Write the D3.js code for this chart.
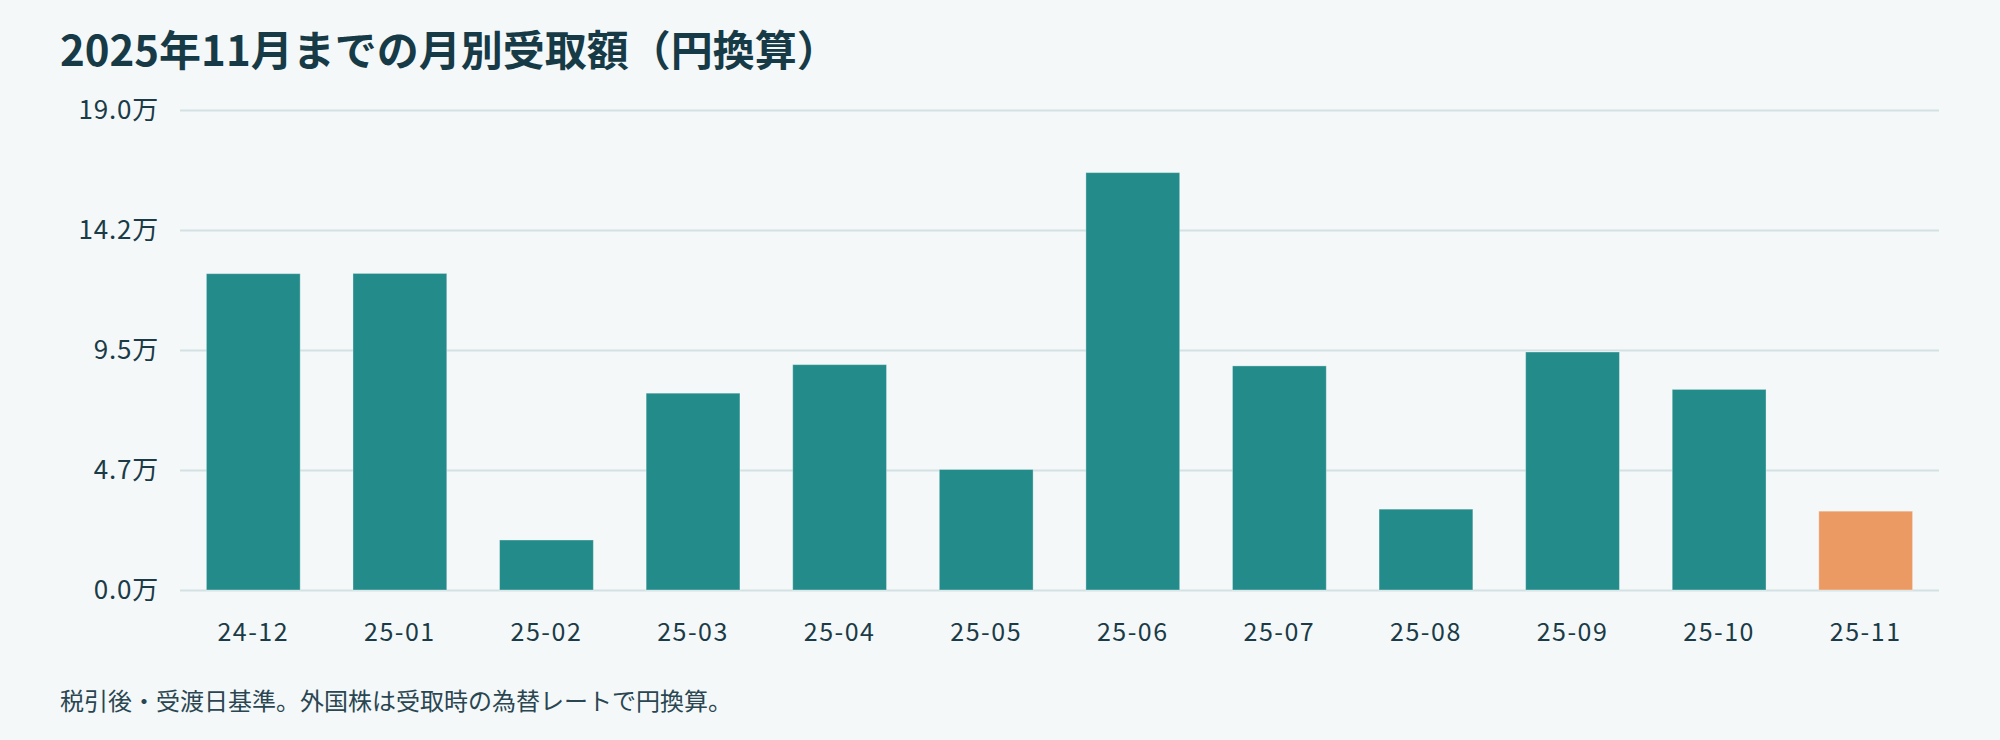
<!DOCTYPE html>
<html>
<head>
<meta charset="utf-8">
<script src="https://cdn.jsdelivr.net/npm/d3@7"></script>
<style>
    body { margin: 0; background: #f4f8f9; }
    text { font-family: "Noto Sans CJK JP", "Noto Sans", sans-serif; }
</style>
</head>
<body>
<div id="grafico"></div>
<script>
/*************************** DADOS ***************************/
var titulo = '2025年11月までの月別受取額（円換算）';
var nota = '税引後・受渡日基準。外国株は受取時の為替レートで円換算。';

var meses = ['24-12', '25-01', '25-02', '25-03', '25-04', '25-05',
             '25-06', '25-07', '25-08', '25-09', '25-10', '25-11'];          //categorias
var valores = [125200, 125300, 19800, 77900, 89200, 47700,
               165200, 88700, 32000, 94200, 79400, 31200];                   //valores em ienes
var rotulosY = ['0.0万', '4.7万', '9.5万', '14.2万', '19.0万'];              //rótulos do eixo y
var mesAtual = '25-11';                                                      //mês destacado

/*************************** ESTILO ***************************/
var verde = '#238b89';
var laranja = '#eb9a64';
var texto = '#1b3b47';
var grade = '#d4e1e4';
var largura = 2000, altura = 740;
var esq = 180, dir = 1939, topo = 110, base = 590;

var svg = d3.select('#grafico')
    .append('svg')
    .attr('width', largura)
    .attr('height', altura)
    .style('background', '#f4f8f9');

// escalas
var yMax = d3.max(valores) * 1.15;
var x = d3.scaleBand()
    .domain(meses)
    .range([esq, dir])
    .paddingInner(0.36)
    .paddingOuter(0.18);
var y = d3.scaleLinear()
    .domain([0, yMax])
    .range([base, topo]);

// título
svg.append('text')
    .text(titulo)
    .attr('x', 60)
    .attr('y', 66)
    .style('font-size', '42px')
    .style('font-weight', 'bold')
    .style('fill', '#173a47');

// eixo y + linhas de grade
var eixoY = svg.append('g')
    .attr('transform', 'translate(' + esq + ',0)')
    .call(d3.axisLeft(y)
        .tickValues(rotulosY.map(function(d, i) { return yMax * i / 4; }))
        .tickFormat(function(d, i) { return rotulosY[i]; })
        .tickSize(-(dir - esq))
        .tickPadding(21));
eixoY.select('.domain').remove();
eixoY.selectAll('line').style('stroke', grade).style('stroke-width', 2);
eixoY.selectAll('text')
    .style('font-size', '26px')
    .style('letter-spacing', '0.8px')
    .style('fill', texto)
    .style('font-family', '"Noto Sans CJK JP", sans-serif');

// barras
svg.append('g').selectAll('rect')
    .data(meses)
    .enter()
    .append('rect')
    .attr('x', function(d) { return x(d); })
    .attr('y', function(d, i) { return y(valores[i]); })
    .attr('width', x.bandwidth())
    .attr('height', function(d, i) { return base - y(valores[i]); })
    .style('fill', function(d) { return d === mesAtual ? laranja : verde; })
    .style('stroke', 'rgba(255,255,255,0.35)')
    .style('stroke-width', 1);

// eixo x
var eixoX = svg.append('g')
    .attr('transform', 'translate(0,' + base + ')')
    .call(d3.axisBottom(x).tickSize(0).tickPadding(33));
eixoX.select('.domain').remove();
eixoX.selectAll('text')
    .style('font-size', '25px')
    .style('letter-spacing', '1.5px')
    .style('fill', texto)
    .style('font-family', '"Noto Sans CJK JP", sans-serif');

// nota de rodapé
svg.append('text')
    .text(nota)
    .attr('x', 60)
    .attr('y', 710)
    .style('font-size', '24px')
    .style('fill', '#2a4651');
</script>
</body>
</html>
